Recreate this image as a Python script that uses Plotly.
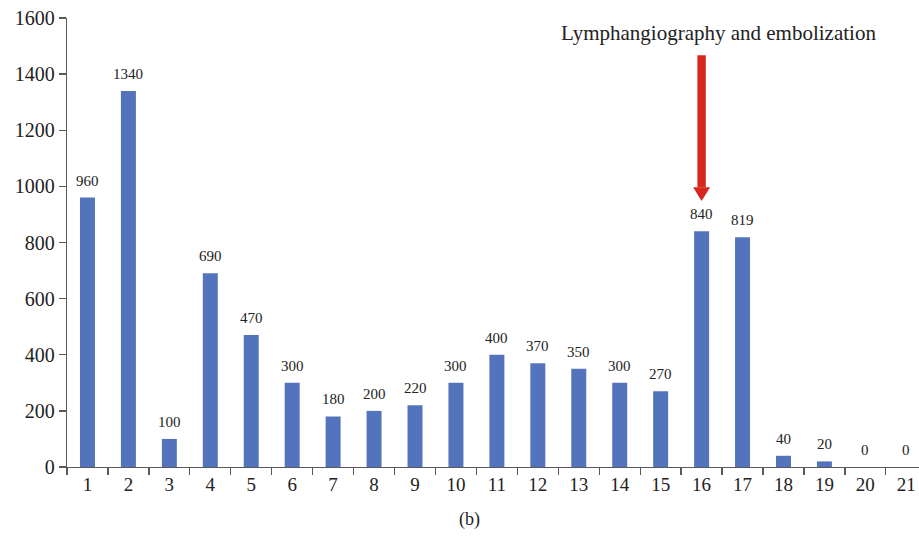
import plotly.graph_objects as go

days = [str(i) for i in range(1, 22)]
volumes = [960, 1340, 100, 690, 470, 300, 180, 200, 220, 300, 400, 370, 350, 300, 270, 840, 819, 40, 20, 0, 0]
value_labels = ["960", "1340", "100", "690", "470", "300", "180", "200", "220", "300", "400",
                "370", "350", "300", "270", "840", "819", "40", "20", "0", "0"]
y_ticks = [0, 200, 400, 600, 800, 1000, 1200, 1400, 1600]
event_day = "16"
event_text = "Lymphangiography and embolization"

FONT = "Liberation Serif"
BAR = "#5374BC"
AXIS = "#595959"
TXT = "#222222"

fig = go.Figure()
fig.add_trace(go.Bar(x=days, y=volumes, marker=dict(color=BAR, line=dict(width=0)),
                     hoverinfo="skip"))

# value labels above bars (category index used as numeric position)
for i, (v, t) in enumerate(zip(volumes, value_labels)):
    fig.add_annotation(x=i, y=v, xref="x", yref="y", text=t, showarrow=False,
                       yanchor="bottom", yshift=7,
                       font=dict(family=FONT, size=15, color=TXT))

# red arrow pointing at the event day
idx = days.index(event_day)
cat_px = 40.94
shaft_hw = 4.2 / cat_px
head_hw = 8.5 / cat_px
y_top = volumes[idx] + 627
y_base = volumes[idx] + 157
y_tip = volumes[idx] + 108
fig.add_shape(type="rect", xref="x", yref="y", x0=idx - shaft_hw, x1=idx + shaft_hw,
              y0=y_base, y1=y_top, fillcolor="#D7261E", line=dict(width=0), layer="above")
fig.add_shape(type="path", xref="x", yref="y",
              path=f"M {idx - head_hw} {y_base} L {idx + head_hw} {y_base} L {idx} {y_tip} Z",
              fillcolor="#D7261E", line=dict(width=0), layer="above")
fig.add_annotation(x=idx, y=1545, xref="x", yref="y", text=event_text, showarrow=False,
                   xshift=17, yanchor="middle", font=dict(family=FONT, size=21, color=TXT))

fig.add_annotation(x=0.472, y=-0.1165, xref="paper", yref="paper", text="(b)", showarrow=False,
                   yanchor="middle", font=dict(family=FONT, size=18, color=TXT))

fig.update_layout(
    width=919, height=540,
    margin=dict(l=67, r=0, t=18, b=73),
    paper_bgcolor="white", plot_bgcolor="white",
    bargap=0.634, showlegend=False,
    font=dict(family=FONT, color=TXT),
)
fig.update_xaxes(type="category", range=[-0.5, 20.31], automargin=False,
                 showline=True, linecolor=AXIS, linewidth=1.3,
                 ticks="outside", tickson="boundaries", ticklen=7, tickcolor=AXIS, tickwidth=1.3,
                 showgrid=False, zeroline=False, ticklabeloverflow="allow",
                 tickfont=dict(family=FONT, size=19, color=TXT))
fig.update_yaxes(range=[0, 1600], tickvals=y_ticks, automargin=False,
                 showline=True, linecolor=AXIS, linewidth=1.3,
                 ticks="outside", ticklen=7, tickcolor=AXIS, tickwidth=1.3, showgrid=False,
                 zeroline=False, ticklabeloverflow="allow",
                 tickfont=dict(family=FONT, size=20, color=TXT))

fig.write_html("out.html", config={"displayModeBar": False, "staticPlot": True},
               post_script="document.body.style.margin='0';document.body.style.overflow='hidden';")
